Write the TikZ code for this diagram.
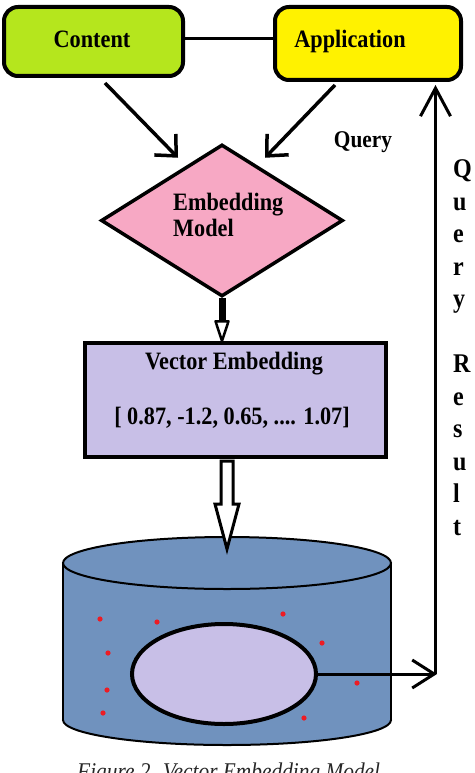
\documentclass[tikz,border=0pt]{standalone}
\usepackage{fontspec}
\setmainfont{Liberation Serif}[FakeStretch=0.89]
\usetikzlibrary{arrows.meta,shapes.geometric,calc}
\definecolor{cgreen}{HTML}{B5E61D}
\definecolor{cyellow}{HTML}{FFF200}
\definecolor{cpink}{HTML}{F7A8C4}
\definecolor{clav}{HTML}{C8BFE7}
\definecolor{cblue}{HTML}{7092BE}
\definecolor{cred}{HTML}{ED1C24}
\begin{document}
\begin{tikzpicture}[x=1pt,y=-1pt,
  lbl/.style={font=\fontsize{25}{29}\selectfont\bfseries, inner sep=0pt, anchor=base},
  vlet/.style={font=\fontsize{27}{30}\selectfont\bfseries, inner sep=0pt, anchor=base west},
  rbox/.style={draw, line width=4pt, rounded corners=14pt, inner sep=0pt},
  arr/.style={line width=3.5pt, -{Straight Barb[length=16pt,width=30pt]}},
  arrup/.style={line width=3pt, -{Straight Barb[length=28pt,width=30pt]}},
  arrright/.style={line width=3pt, -{Straight Barb[length=22pt,width=28pt]}},
  ]
\useasboundingbox (0,0) rectangle (474,773);
\clip (0,0) rectangle (474,773);
% top boxes
\node[rbox, fill=cgreen, minimum width=179, minimum height=69] (content) at (93.5,41.5) {};
\node[rbox, fill=cyellow, minimum width=186, minimum height=73] (app) at (368,43.5) {};
\node[lbl] (ctext) at (92,48) {Content};
\node[lbl] (atext) at (350,48) {Application};
\draw[line width=3pt] ($(content.east)+(0,-3)$) -- ($(content.east -| app.west)+(0,-3)$);
% diamond
\node[draw, diamond, line width=3.5pt, fill=cpink, inner sep=0pt,
      minimum width=242, minimum height=152] (dm) at (222,220.5) {};
\node[lbl, anchor=base west] (em1) at (173,210) {Embedding};
\node[lbl, anchor=base west] (em2) at (173,236) {Model};
\node[lbl, font=\fontsize{24}{28}\selectfont\bfseries] (qry) at (363,147) {Query};
\draw[arr] ($(content.south)+(11.5,5)$) -- ($(dm.north)+(-44,15)$);
\draw[arr] ($(app.south)+(-33,3)$) -- ($(dm.north)+(43,15)$);
% vector embedding box
\node[draw, line width=4pt, fill=clav, minimum width=301, minimum height=114, inner sep=0pt] (vec) at (235.5,400) {};
\node[lbl] (vt1) at (234,369) {Vector Embedding};
\node[lbl] (vt2) at (232,424) {[ 0.87, -1.2, 0.65, .... 1.07]};
% small arrow diamond -> vector
\draw[line width=7pt] (dm.south) -- ($(dm.south)+(0,24)$);
\draw[line width=2.5pt, fill=white, line join=round]
  ($(dm.south)+(-6.5,23)$) -- ($(dm.south)+(6.5,23)$) -- (dm.south |- vec.north) -- cycle;
% cylinder
\draw[line width=2pt, fill=cblue] (227,720) ellipse[x radius=164, y radius=25];
\fill[cblue] (63,563) rectangle (391,720);
\draw[line width=2pt] (63,563) -- (63,720) (391,563) -- (391,720);
\draw[line width=2pt, fill=cblue] (227,563) ellipse[x radius=164, y radius=26];
\node[draw, ellipse, line width=4pt, fill=clav, minimum width=184, minimum height=100, inner sep=0pt] (db) at (224,674) {};
\foreach \p in {(100,619),(157,622),(283,614),(322,643),(108,653),(107,690),(103,713),(357,683),(304,718)}
  \fill[cred] \p circle[radius=2.6];
% hollow arrow vector -> cylinder
\coordinate (ha) at ($(vec.south)+(-8.5,2)$);
\draw[line width=3pt, fill=white, line join=miter]
  ($(ha)+(-6,0)$) -- ($(ha)+(-6,43)$) -- ($(ha)+(-12,43)$) -- ($(ha)+(0,88)$)
  -- ($(ha)+(12,43)$) -- ($(ha)+(6,43)$) -- ($(ha)+(6,0)$) -- cycle;
% query result path
\coordinate (corner) at (437,674);
\draw[arrright] (db.east) -- (corner);
\draw[arrup] ($(corner)+(-1.5,0)$) -- ($(corner |- app.south)+(-1.5,3)$);
% vertical letters
\foreach \l [count=\i from 0] in {Q,u,e,r,y,,R,e,s,u,l,t}
  \node[vlet] (v\i) at (453,177.5+32.5*\i) {\l};
% caption
\node[font=\fontsize{24}{28}\selectfont\itshape, text=black!85, inner sep=0pt, anchor=base west] (cap) at (77,779) {Figure 2. Vector Embedding Model};
\end{tikzpicture}
\end{document}
